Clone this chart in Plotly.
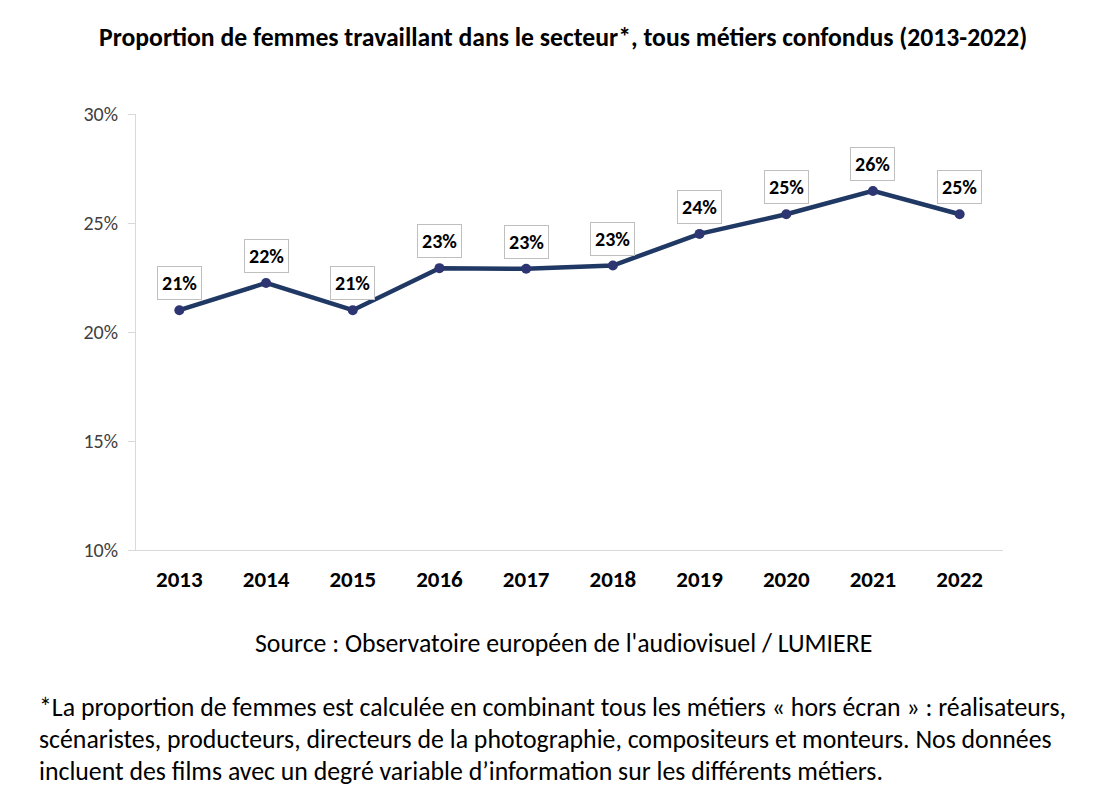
import plotly.graph_objects as go

years = ["2013", "2014", "2015", "2016", "2017", "2018", "2019", "2020", "2021", "2022"]
values = [21.0, 22.25, 21.0, 22.93, 22.9, 23.05, 24.5, 25.4, 26.47, 25.4]
value_labels = ["21%", "22%", "21%", "23%", "23%", "23%", "24%", "25%", "26%", "25%"]
y_ticks = [10, 15, 20, 25, 30]
y_tick_labels = ["10%", "15%", "20%", "25%", "30%"]

title_text = "Proportion de femmes travaillant dans le secteur*, tous métiers confondus (2013-2022)"
source_text = "Source : Observatoire européen de l'audiovisuel / LUMIERE"
footnote_lines = [
    "*La proportion de femmes est calculée en combinant tous les métiers « hors écran » : réalisateurs,",
    "scénaristes, producteurs, directeurs de la photographie, compositeurs et monteurs. Nos données",
    "incluent des films avec un degré variable d’information sur les différents métiers.",
]

FONT = "Carlito, Calibri, 'Noto Sans', sans-serif"

# page offset (browser body margin) compensation
OFF = 8
W, H = 1113 - OFF, 812 - OFF
L, T, R, B = 136 - OFF, 114 - OFF, 110, 262
PW, PH = W - L - R, H - T - B

def px_to_paper(x, y):
    return (x - OFF - L) / PW, (H - B - (y - OFF)) / PH

fig = go.Figure()
fig.add_trace(go.Scatter(
    x=years, y=values, mode="lines+markers",
    line=dict(color="#203864", width=4.5),
    marker=dict(color="#2D3572", size=10),
    hoverinfo="skip", showlegend=False,
))

annotations = []
for i, (v, lab) in enumerate(zip(values, value_labels)):
    annotations.append(dict(
        x=i, y=v, xref="x", yref="y", text="<b>%s</b>" % lab,
        showarrow=False, yshift=27,
        font=dict(family=FONT, size=20, color="#000000"),
        bgcolor="#FFFFFF", bordercolor="#BFBFBF", borderwidth=1, borderpad=4,
    ))

sx, sy = px_to_paper(563, 643)
annotations.append(dict(
    x=sx, y=sy, xref="paper", yref="paper", text=source_text,
    showarrow=False, xanchor="center", yanchor="middle",
    font=dict(family=FONT, size=25.8, color="#000000"),
))
for i, line in enumerate(footnote_lines):
    fx, fy = px_to_paper(37, 707 + 32 * i)
    annotations.append(dict(
        x=fx, y=fy, xref="paper", yref="paper", text=line,
        showarrow=False, xanchor="left", yanchor="middle",
        font=dict(family=FONT, size=25.8, color="#000000"),
    ))

tx, ty = px_to_paper(563, 37)
annotations.append(dict(
    x=tx, y=ty, xref="paper", yref="paper", text="<b>%s</b>" % title_text,
    showarrow=False, xanchor="center", yanchor="middle",
    font=dict(family=FONT, size=25.7, color="#000000"),
))

fig.update_layout(
    width=W, height=H,
    paper_bgcolor="#FFFFFF", plot_bgcolor="#FFFFFF",
    margin=dict(l=L, r=R, t=T, b=B),
    xaxis=dict(type="category", range=[-0.5, 9.5], showgrid=False,
               showline=True, linecolor="#D9D9D9", linewidth=1,
               ticks="", tickfont=dict(family=FONT, size=23, color="#000000"),
               ticklabelstandoff=8,
               tickprefix="<b>", ticksuffix="</b>", fixedrange=True),
    yaxis=dict(range=[10, 30], tickvals=y_ticks, ticktext=y_tick_labels,
               showgrid=False, showline=True, linecolor="#D9D9D9", linewidth=1,
               ticks="outside", ticklen=7, tickcolor="#D9D9D9",
               ticklabelstandoff=6,
               tickfont=dict(family=FONT, size=20, color="#404040"),
               zeroline=False, fixedrange=True),
    annotations=annotations,
)

fig.write_html("out.html")
